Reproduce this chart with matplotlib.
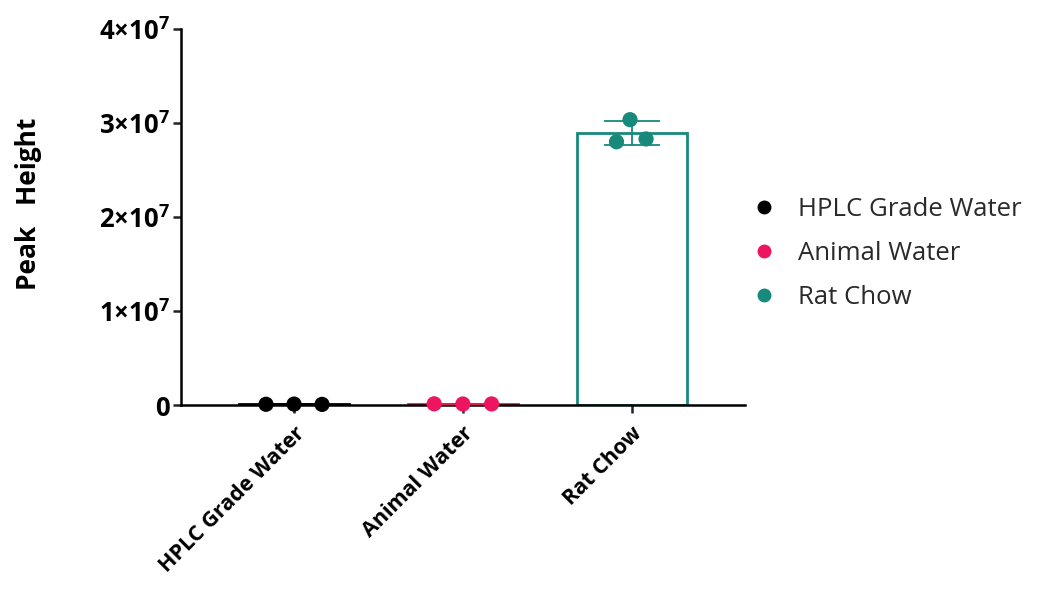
import matplotlib
matplotlib.use("Agg")
import matplotlib.pyplot as plt
from matplotlib.lines import Line2D
import numpy as np

plt.rcParams['font.family'] = ['Open Sans', 'DejaVu Sans']
plt.rcParams['mathtext.fontset'] = 'custom'
plt.rcParams['mathtext.rm'] = 'Open Sans:bold'
plt.rcParams['mathtext.it'] = 'Open Sans:bold'
plt.rcParams['mathtext.bf'] = 'Open Sans:bold'

# Sample groups and replicate peak heights
groups = ["HPLC Grade Water", "Animal Water", "Rat Chow"]
hplc_water = [1.0e5, 1.2e5, 0.9e5]
animal_water = [1.5e5, 1.3e5, 1.4e5]
rat_chow = [2.80e7, 3.035e7, 2.83e7]
replicates = [hplc_water, animal_water, rat_chow]
colors = ["#000000", "#EE1560", "#178A7C"]

yticks = [0, 1e7, 2e7, 3e7, 4e7]
ytick_labels = ["0", r"$1{\times}10^{7}$", r"$2{\times}10^{7}$",
                r"$3{\times}10^{7}$", r"$4{\times}10^{7}$"]

# horizontal spread of replicate dots within each group
offsets = [[-0.166, 0.0, 0.166], [-0.17, 0.0, 0.17], [-0.09, -0.01, 0.085]]

fig = plt.figure(figsize=(10.58, 5.89), dpi=100)
ax = fig.add_axes([0.171, 0.312, 0.533, 0.639])

x = np.arange(len(groups))
means = [np.mean(r) for r in replicates]
sds = [np.std(r, ddof=1) for r in replicates]

ax.bar(x, means, width=0.65, facecolor="white", edgecolor=colors,
       linewidth=2, zorder=2)
for i, (vals, c) in enumerate(zip(replicates, colors)):
    ax.errorbar(x[i], means[i], yerr=sds[i], color=c, capsize=20,
                elinewidth=1.3, capthick=1.3, zorder=3, fmt="none")
    xs = [x[i] + o for o in offsets[i]]
    ax.scatter(xs, vals, s=120, color=c, zorder=4, edgecolors="none",
               clip_on=False)

ax.set_xlim(-0.67, 2.67)
ax.set_ylim(0, 4e7)
ax.set_yticks(yticks)
ax.set_yticklabels(ytick_labels, fontsize=18.5, fontweight="bold")
ax.set_xticks(x)
ax.set_xticklabels(groups, rotation=45, ha="right", rotation_mode="anchor",
                   fontsize=15.5, fontweight="bold")
ax.set_ylabel("Peak   Height", fontsize=19, fontweight="bold")
ax.yaxis.set_label_coords(-0.247, 0.535)

for side in ["top", "right"]:
    ax.spines[side].set_visible(False)
for side in ["left", "bottom"]:
    ax.spines[side].set_linewidth(1.8)
ax.tick_params(axis="both", width=1.8, length=6, color="#222222")
ax.tick_params(axis="x", pad=7)
ax.tick_params(axis="y", pad=2)

handles = [Line2D([], [], marker="o", linestyle="none", markersize=9,
                  color=c) for c in colors]
fig.legend(handles, groups, loc="upper left", bbox_to_anchor=(0.686, 0.705),
           frameon=False, fontsize=18.5, labelspacing=0.75, handletextpad=0.7,
           handlelength=1.2, labelcolor="#2a2a2a")

fig.savefig("out.png", dpi=100)
